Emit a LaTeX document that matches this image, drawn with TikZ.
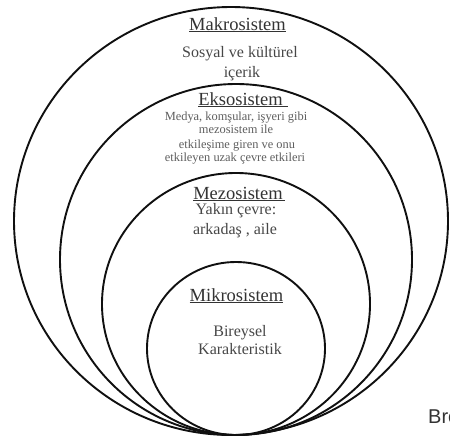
\documentclass[tikz,border=0pt]{standalone}
\usepackage{fontspec}
\setmainfont{Liberation Serif}
\newfontfamily\brofont{Liberation Sans}
\usetikzlibrary{shapes.geometric}
\definecolor{ringblack}{HTML}{101010}
\definecolor{titlegray}{HTML}{333333}
\definecolor{bodygray}{HTML}{474747}
\definecolor{smallgray}{HTML}{5E5E5E}
\definecolor{brogray}{HTML}{333333}
\begin{document}
\begin{tikzpicture}[x=1pt,y=-1pt,
  ring/.style={draw=ringblack, line width=1.9pt, ellipse, inner sep=0pt, outer sep=0pt},
  title/.style={text=titlegray, font=\fontsize{18.5}{20}\selectfont, inner sep=0pt, anchor=base},
  body/.style={text=bodygray, font=\fontsize{16}{20}\selectfont, inner sep=0pt, anchor=base},
  small/.style={text=smallgray, font=\fontsize{12.4}{14}\selectfont, inner sep=0pt, anchor=base},
  uline/.style={draw=titlegray, line width=0.8pt}]
\useasboundingbox (0,0) rectangle (450,437);
% rings
\node[ring, minimum width=434pt, minimum height=428pt] (makro) at (231,221) {};
\node[ring, minimum width=352pt, minimum height=351pt] (ekso) at (236,259.5) {};
\node[ring, minimum width=268pt, minimum height=262pt] (mezo) at (236,304) {};
\node[ring, minimum width=178pt, minimum height=173pt] (mikro) at (236,348.5) {};
% Makrosistem
\node[title] (makt) at (237.5,30) {Makrosistem};
\draw[uline] ([yshift=-1.8pt]makt.base west) -- ([yshift=-1.8pt]makt.base east);
\node[body] (mak1) at (240,57.5) {Sosyal ve kültürel};
\node[body] (mak2) at (242,77) {içerik};
% Eksosistem
\node[title] (ekst) at (240.5,105) {Eksosistem};
\draw[uline] ([yshift=-1.8pt]ekst.base west) -- ([xshift=5pt,yshift=-1.8pt]ekst.base east);
\node[small] (eks1) at (236,120.5) {Medya, komşular, işyeri gibi};
\node[small] (eks2) at (236,133.5) {mezosistem ile};
\node[small] (eks3) at (237,148.5) {etkileşime giren ve onu};
\node[small] (eks4) at (235,161.5) {etkileyen uzak çevre etkileri};
% Mezosistem
\node[title] (mezt) at (238,199) {Mezosistem};
\draw[uline] ([yshift=-1.8pt]mezt.base west) -- ([xshift=2pt,yshift=-1.8pt]mezt.base east);
\node[body] (mez1) at (236,214.5) {Yakın çevre:};
\node[body] (mez2) at (235,234.5) {arkadaş , aile};
% Mikrosistem
\node[title] (mikt) at (236.5,301) {Mikrosistem};
\draw[uline] ([yshift=-1.8pt]mikt.base west) -- ([yshift=-1.8pt]mikt.base east);
\node[body] (mik1) at (240,336.5) {Bireysel};
\node[body] (mik2) at (240,354.5) {Karakteristik};
% caption, cut off at the right edge as in the reference
\node[anchor=base west, inner sep=0pt, text=brogray, font=\brofont\fontsize{20}{22}\selectfont] (bro) at (428,423) {Bro};
\end{tikzpicture}
\end{document}
